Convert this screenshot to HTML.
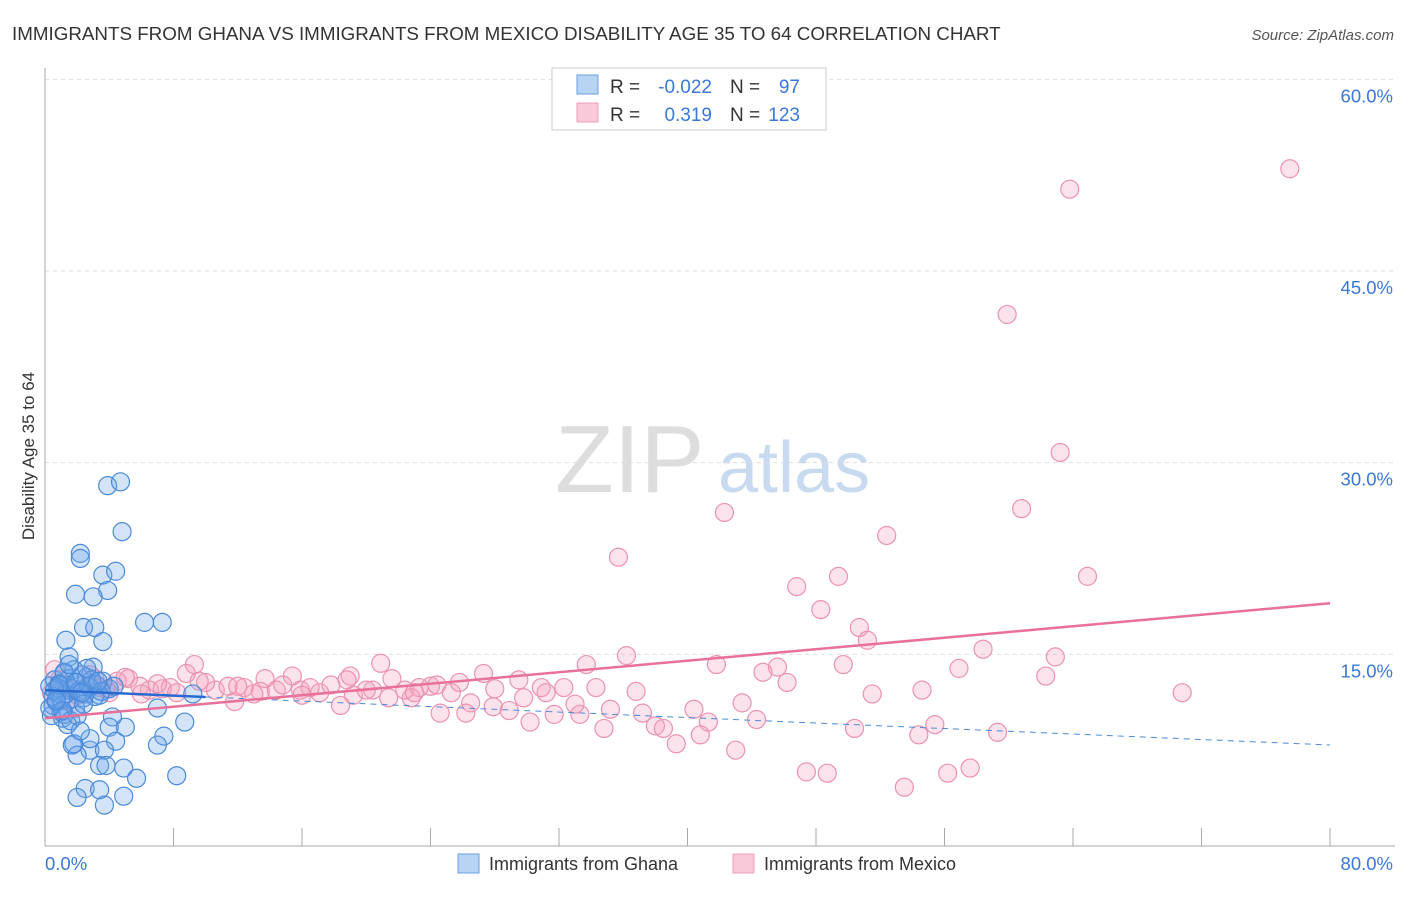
<!DOCTYPE html>
<html><head><meta charset="utf-8"><style>
body{margin:0;background:#fff;font-family:"Liberation Sans",sans-serif;}
svg text{font-family:"Liberation Sans",sans-serif;}
</style></head><body>
<svg width="1406" height="892" id="chart">
<text x="12" y="40" font-size="18.8" fill="#333">IMMIGRANTS FROM GHANA VS IMMIGRANTS FROM MEXICO DISABILITY AGE 35 TO 64 CORRELATION CHART</text>
<text x="1394" y="40" font-size="15" fill="#555" font-style="italic" text-anchor="end">Source: ZipAtlas.com</text>
<text x="34" y="456" font-size="17" fill="#333" text-anchor="middle" transform="rotate(-90 34 456)">Disability Age 35 to 64</text>
<text x="555" y="492" font-size="96" fill="#ddd" font-family="Liberation Serif">ZIP</text>
<text x="718" y="492" font-size="72" fill="#c8daf0">atlas</text>
<g id="grid"></g><g id="axes"></g><g id="pts"></g><g id="lines"></g>
<g>
<rect x="552" y="68" width="274" height="62" fill="#fff" stroke="#ccc"/>
<rect x="577" y="75" width="21" height="19" fill="#b8d4f5" stroke="#6aa0e0"/>
<rect x="577" y="103" width="21" height="19" fill="#fac8d8" stroke="#eea0b8"/>
<text x="610" y="93" font-size="19" fill="#333">R =</text>
<text x="712" y="93" font-size="19" fill="#3a78d8" text-anchor="end">-0.022</text>
<text x="730" y="93" font-size="19" fill="#333">N =</text>
<text x="800" y="93" font-size="19" fill="#3a78d8" text-anchor="end">97</text>
<text x="610" y="121" font-size="19" fill="#333">R =</text>
<text x="712" y="121" font-size="19" fill="#3a78d8" text-anchor="end">0.319</text>
<text x="730" y="121" font-size="19" fill="#333">N =</text>
<text x="800" y="121" font-size="19" fill="#3a78d8" text-anchor="end">123</text>
</g>
<g>
<rect x="458" y="854" width="21" height="19" fill="#b8d4f5" stroke="#6aa0e0"/>
<text x="489" y="870" font-size="18" fill="#333">Immigrants from Ghana</text>
<rect x="733" y="854" width="21" height="19" fill="#fac8d8" stroke="#eea0b8"/>
<text x="764" y="870" font-size="18" fill="#333">Immigrants from Mexico</text>
</g>
</svg>
<script>
const yTicks=[15,30,45,60];
const yTickLabels=["15.0%","30.0%","45.0%","60.0%"];
const xTickLabels=["0.0%","80.0%"];
const ghanaX=[3.9,4.7,4.8,2.2,2.2,3.6,4.4,3.9,1.9,3.0,6.2,7.3,2.4,3.1,3.6,1.3,1.5,7.0,8.7,5.0,4.2,4.0,7.4,7.0,4.4,1.7,2.8,3.7,2.0,3.4,3.8,4.9,5.7,8.2,2.5,2.0,3.4,4.9,3.7,9.2,
0.3,0.5,0.6,0.8,1.0,1.2,1.4,1.6,1.8,2.0,2.2,2.4,2.6,2.8,3.0,3.2,3.4,3.6,4.0,4.3,0.4,0.7,0.9,1.1,1.3,1.5,1.7,1.9,2.1,2.3,2.5,2.7,2.9,3.1,3.5,0.5,0.8,1.2,1.6,2.0,2.4,2.8,0.3,0.6,1.0,1.4,1.8,2.2,1.2,1.5,0.9,2.6,3.3,1.1,0.7,1.9,2.3];
const ghanaY=[28.2,28.5,24.6,22.9,22.5,21.2,21.5,20.0,19.7,19.5,17.5,17.5,17.1,17.1,16.0,16.1,14.8,10.8,9.7,9.3,10.1,9.3,8.6,7.9,8.2,7.9,7.5,7.5,7.1,6.3,6.3,6.1,5.3,5.5,4.5,3.8,4.4,3.9,3.2,11.9,
12.5,11.0,13.0,12.0,10.5,13.5,12.2,11.5,13.8,12.8,12.0,11.6,13.2,12.4,14.0,12.6,11.8,12.9,12.3,12.5,10.2,11.3,12.7,10.0,11.9,13.1,12.3,10.8,12.1,13.4,11.9,12.5,13.0,11.7,12.1,11.7,12.4,10.3,9.8,10.2,11.1,8.4,10.8,12.2,11.5,9.5,8.0,9.0,13.6,14.2,12.6,13.9,12.9,10.6,11.4,12.8,12.0];
const mexX=[77.5,63.8,59.9,63.2,42.3,60.8,52.4,35.7,49.4,64.9,46.8,48.3,50.7,51.2,58.4,62.9,36.2,33.7,41.8,49.7,56.9,45.6,44.7,46.2,62.3,51.5,54.6,70.8,43.4,40.4,35.2,37.2,41.3,44.3,55.4,50.4,34.8,38.0,38.5,40.8,54.4,59.3,39.3,43.0,47.4,48.7,56.2,57.6,53.5,30.2,31.7,33.3,
20.9,27.3,29.5,30.9,32.3,34.3,36.8,9.3,8.8,15.4,13.7,19.0,21.6,24.0,24.4,25.3,26.5,27.9,28.9,24.6,26.2,22.8,21.4,18.4,11.8,19.2,17.1,15.9,13.4,12.4,10.6,10.0,7.8,6.5,5.2,4.5,3.1,2.2,0.9,0.6,1.6,3.4,5.9,7.3,11.4,14.4,16.5,20.4,22.4,23.3,
0.4,1.2,2.0,2.8,4.0,5.0,6.0,7.0,8.2,9.6,12.0,13.0,14.8,16.0,17.8,18.8,20.0,23.0,25.8,28.0,29.8,31.2,33.0,1.5,3.8];
const mexY=[53.0,51.4,41.6,30.8,26.1,26.4,24.3,22.6,21.1,21.1,20.3,18.5,17.1,16.1,15.4,14.8,14.9,14.2,14.2,14.2,13.9,14.0,13.6,12.8,13.3,11.9,12.2,12.0,11.2,10.7,10.7,10.4,9.7,9.9,9.5,9.2,9.2,9.4,9.2,8.7,8.7,8.9,8.0,7.5,5.8,5.7,5.7,6.1,4.6,9.7,10.3,10.3,
14.3,13.5,13.0,12.4,12.4,12.4,12.1,14.2,13.5,13.3,13.1,13.3,13.1,12.5,12.6,12.0,11.2,10.9,10.6,10.4,10.4,11.6,11.6,11.0,11.3,11.8,12.0,12.2,12.1,12.4,12.2,12.8,12.4,12.2,13.1,12.9,13.1,12.2,13.0,13.8,12.2,12.4,12.5,12.3,12.5,12.2,12.4,12.2,12.2,12.4,
12.0,12.6,11.8,13.4,12.0,13.2,11.9,12.7,12.0,12.9,12.5,11.9,12.6,11.8,12.6,13.0,12.2,12.0,12.8,12.3,11.6,12.0,11.1,11.4,12.3];
const ghanaLine=[12.2,-0.0537];
const mexLine=[10.0,0.1125];
const NS="http://www.w3.org/2000/svg";
const X0=45,X1=1330,Y0=846;
const sx=v=>X0+v/80*(X1-X0);
const sy=v=>Y0-v/15*191.67;
function mk(tag,attrs,parent){const e=document.createElementNS(NS,tag);for(const k in attrs)e.setAttribute(k,attrs[k]);document.getElementById(parent).appendChild(e);return e;}
yTicks.forEach((t,i)=>{
 const g=mk('line',{x1:X0,x2:1395,y1:sy(t),y2:sy(t),stroke:'#ddd','stroke-dasharray':'4 4'},'grid');
 
 
 const l=mk('text',{x:1393,y:sy(t)+23,'font-size':18.5,fill:'#3a78d8','text-anchor':'end'},'axes');
 l.textContent=yTickLabels[i];
 
 
});
{const a=mk('line',{x1:X0,x2:X0,y1:68,y2:Y0,stroke:'#aaa'},'axes');
 
 
 const b=mk('line',{x1:X0,x2:1395,y1:Y0,y2:Y0,stroke:'#aaa'},'axes');
 
 }
for(let i=0;i<=10;i++){const t=mk('line',{x1:sx(i*8),x2:sx(i*8),y1:Y0,y2:Y0-18,stroke:'#aaa'},'axes');
 
 }
[[0,'start',45],[80,'end',1393]].forEach((d,i)=>{const l=mk('text',{x:d[2],y:870,'font-size':18.5,fill:'#3a78d8','text-anchor':d[1]},'axes');
 l.textContent=xTickLabels[i];
 
 });
mexX.forEach((x,i)=>{const c=mk('circle',{cx:sx(x),cy:sy(mexY[i]),r:9,fill:'rgba(245,160,190,0.3)',stroke:'#ec92b2','stroke-width':1.2},'pts');
 
 });
ghanaX.forEach((x,i)=>{const c=mk('circle',{cx:sx(x),cy:sy(ghanaY[i]),r:9,fill:'rgba(110,165,235,0.3)',stroke:'#4a8ad8','stroke-width':1.2},'pts');
 
 });
{const f=x=>ghanaLine[0]+ghanaLine[1]*x;
 const d=mk('line',{x1:sx(10),y1:sy(f(10)),x2:sx(80),y2:sy(f(80)),stroke:'#4a8ad8','stroke-width':1,'stroke-dasharray':'6 5'},'lines');
 
 
 const s=mk('line',{x1:sx(0),y1:sy(f(0)),x2:sx(10),y2:sy(f(10)),stroke:'#2a6ad0','stroke-width':2.5},'lines');
 
 
 const g=x=>mexLine[0]+mexLine[1]*x;
 const m=mk('line',{x1:sx(0),y1:sy(g(0)),x2:sx(80),y2:sy(g(80)),stroke:'#e8709a','stroke-width':2.5},'lines');
 
 }
</script>
</body></html>
